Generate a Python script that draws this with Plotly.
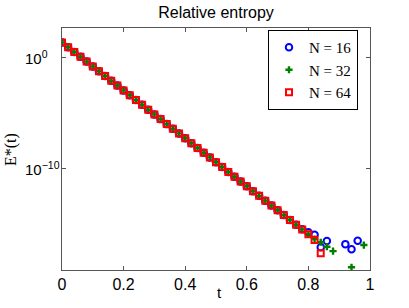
import plotly.graph_objects as go

# Time samples and relative entropy values
t16 = [0.00, 0.02, 0.04, 0.06, 0.08, 0.10, 0.12, 0.14, 0.16, 0.18, 0.20, 0.22, 0.24, 0.26, 0.28,
       0.30, 0.32, 0.34, 0.36, 0.38, 0.40, 0.42, 0.44, 0.46, 0.48, 0.50, 0.52, 0.54, 0.56, 0.58,
       0.60, 0.62, 0.64, 0.66, 0.68, 0.70, 0.72, 0.74, 0.76, 0.78, 0.80, 0.82, 0.84, 0.86,
       0.92, 0.94, 0.96]
e16 = [2.5e1, 9.3e0, 3.4e0, 1.3e0, 4.7e-1, 1.7e-1, 6.4e-2, 2.4e-2, 8.8e-3, 3.3e-3, 1.2e-3,
       4.4e-4, 1.6e-4, 6.1e-5, 2.2e-5, 8.3e-6, 3.1e-6, 1.1e-6, 4.2e-7, 1.6e-7, 5.8e-8, 2.1e-8,
       7.9e-9, 2.9e-9, 1.1e-9, 4.0e-10, 1.5e-10, 5.4e-11, 2.0e-11, 7.4e-12, 2.8e-12, 1.0e-12,
       3.8e-13, 1.4e-13, 5.2e-14, 1.9e-14, 7.0e-15, 2.6e-15, 9.6e-16, 3.8e-16, 2.0e-16, 1.2e-16,
       8.9e-18, 3.2e-17, 1.7e-17, 5.9e-18, 3.5e-17]

t32 = [0.00, 0.02, 0.04, 0.06, 0.08, 0.10, 0.12, 0.14, 0.16, 0.18, 0.20, 0.22, 0.24, 0.26, 0.28,
       0.30, 0.32, 0.34, 0.36, 0.38, 0.40, 0.42, 0.44, 0.46, 0.48, 0.50, 0.52, 0.54, 0.56, 0.58,
       0.60, 0.62, 0.64, 0.66, 0.68, 0.70, 0.72, 0.74, 0.76, 0.78, 0.80, 0.82, 0.84, 0.86, 0.88,
       0.94, 0.98]
e32 = [2.5e1, 9.3e0, 3.4e0, 1.3e0, 4.7e-1, 1.7e-1, 6.4e-2, 2.4e-2, 8.8e-3, 3.3e-3, 1.2e-3,
       4.4e-4, 1.6e-4, 6.1e-5, 2.2e-5, 8.3e-6, 3.1e-6, 1.1e-6, 4.2e-7, 1.6e-7, 5.8e-8, 2.1e-8,
       7.9e-9, 2.9e-9, 1.1e-9, 4.0e-10, 1.5e-10, 5.4e-11, 2.0e-11, 7.4e-12, 2.8e-12, 1.0e-12,
       3.8e-13, 1.4e-13, 5.2e-14, 1.9e-14, 7.0e-15, 2.6e-15, 9.6e-16, 3.6e-16, 1.3e-16, 4.9e-17,
       2.5e-17, 1.0e-17, 4.0e-18, 1.4e-19, 1.4e-17]

t64 = [0.00, 0.02, 0.04, 0.06, 0.08, 0.10, 0.12, 0.14, 0.16, 0.18, 0.20, 0.22, 0.24, 0.26, 0.28,
       0.30, 0.32, 0.34, 0.36, 0.38, 0.40, 0.42, 0.44, 0.46, 0.48, 0.50, 0.52, 0.54, 0.56, 0.58,
       0.60, 0.62, 0.64, 0.66, 0.68, 0.70, 0.72, 0.74, 0.76, 0.78, 0.80, 0.82, 0.84]
e64 = [2.5e1, 9.3e0, 3.4e0, 1.3e0, 4.7e-1, 1.7e-1, 6.4e-2, 2.4e-2, 8.8e-3, 3.3e-3, 1.2e-3,
       4.4e-4, 1.6e-4, 6.1e-5, 2.2e-5, 8.3e-6, 3.1e-6, 1.1e-6, 4.2e-7, 1.6e-7, 5.8e-8, 2.1e-8,
       7.9e-9, 2.9e-9, 1.1e-9, 4.0e-10, 1.5e-10, 5.4e-11, 2.0e-11, 7.4e-12, 2.8e-12, 1.0e-12,
       3.8e-13, 1.4e-13, 5.2e-14, 1.9e-14, 7.0e-15, 2.6e-15, 9.6e-16, 3.6e-16, 1.3e-16, 4.0e-17,
       2.5e-18]

x_ticks = [0, 0.2, 0.4, 0.6, 0.8, 1]
x_ticktext = ["0", "0.2", "0.4", "0.6", "0.8", "1"]
y_ticks = [1e0, 1e-10]
y_ticktext = ["10<sup>0</sup>", "10<sup>\u221210</sup>"]

sans = "Liberation Sans, Arial, sans-serif"
serif = "Liberation Serif, Times New Roman, serif"

W, H = 409, 308
L, R, T, B = 62, 39, 28, 38
PW, PH = W - L - R, H - T - B

fig = go.Figure()
fig.add_trace(go.Scatter(
    x=t16, y=e16, mode="markers", name="N = 16",
    marker=dict(symbol="circle-open", size=6.5, color="#0000ff", line=dict(width=2, color="#0000ff"))))
fig.add_trace(go.Scatter(
    x=t32, y=e32, mode="markers", name="N = 32",
    marker=dict(symbol="cross", size=6, color="#008000", line=dict(width=0))))
fig.add_trace(go.Scatter(
    x=t64, y=e64, mode="markers", name="N = 64",
    marker=dict(symbol="square-open", size=6, color="#ff0000", line=dict(width=2, color="#ff0000"))))

axis_common = dict(showline=True, linecolor="#555555", linewidth=1, mirror="allticks",
                   ticks="inside", ticklen=4, tickcolor="#555555", showgrid=False, zeroline=False,
                   automargin=False)

# y tick labels: the "10" bases are left-aligned as in the reference
ytick_annotations = [
    dict(text=txt, xref="paper", yref="y", x=-(L - 23) / PW, y=[0, -10][i],
         xanchor="left", yanchor="middle", showarrow=False,
         font=dict(family=sans, size=15, color="black"))
    for i, txt in enumerate(y_ticktext)
]

fig.update_layout(
    width=W, height=H,
    margin=dict(l=L, r=R, t=T, b=B, autoexpand=False),
    paper_bgcolor="white", plot_bgcolor="white",
    title=dict(text="Relative entropy", x=(62 + 370) / 2 / W, xanchor="center",
               y=1 - 12 / H, yanchor="middle", automargin=False,
               font=dict(family=sans, size=16, color="black")),
    xaxis=dict(range=[0, 1], tickvals=x_ticks, ticktext=x_ticktext,
               ticklabelstandoff=0, tickfont=dict(family=sans, size=16, color="black"),
               **axis_common),
    yaxis=dict(type="log", range=[-19.1, 2.7], tickvals=y_ticks, ticktext=y_ticktext,
               showticklabels=False, **axis_common),
    legend=dict(x=(268 - 62) / PW, xanchor="left", y=1 - 2 / PH, yanchor="top",
                bgcolor="white", bordercolor="black", borderwidth=1,
                font=dict(family=serif, size=15, color="black"),
                itemwidth=30, tracegroupgap=0),
    showlegend=True,
    annotations=ytick_annotations + [
        dict(text="t", xref="paper", yref="paper", x=(219 - L) / PW,
             y=-(292 - (H - B)) / PH, xanchor="center", yanchor="middle",
             showarrow=False, font=dict(family=sans, size=15, color="black")),
        dict(text="E*(t)", xref="paper", yref="paper", x=-(L - 11) / PW,
             y=(H - B - 150) / PH, xanchor="center", yanchor="middle", textangle=-90,
             showarrow=False, font=dict(family=serif, size=16, color="black")),
    ],
)

fig.write_html("out.html", config={"displayModeBar": False},
               post_script="document.body.style.margin='0';document.body.style.padding='0';")
